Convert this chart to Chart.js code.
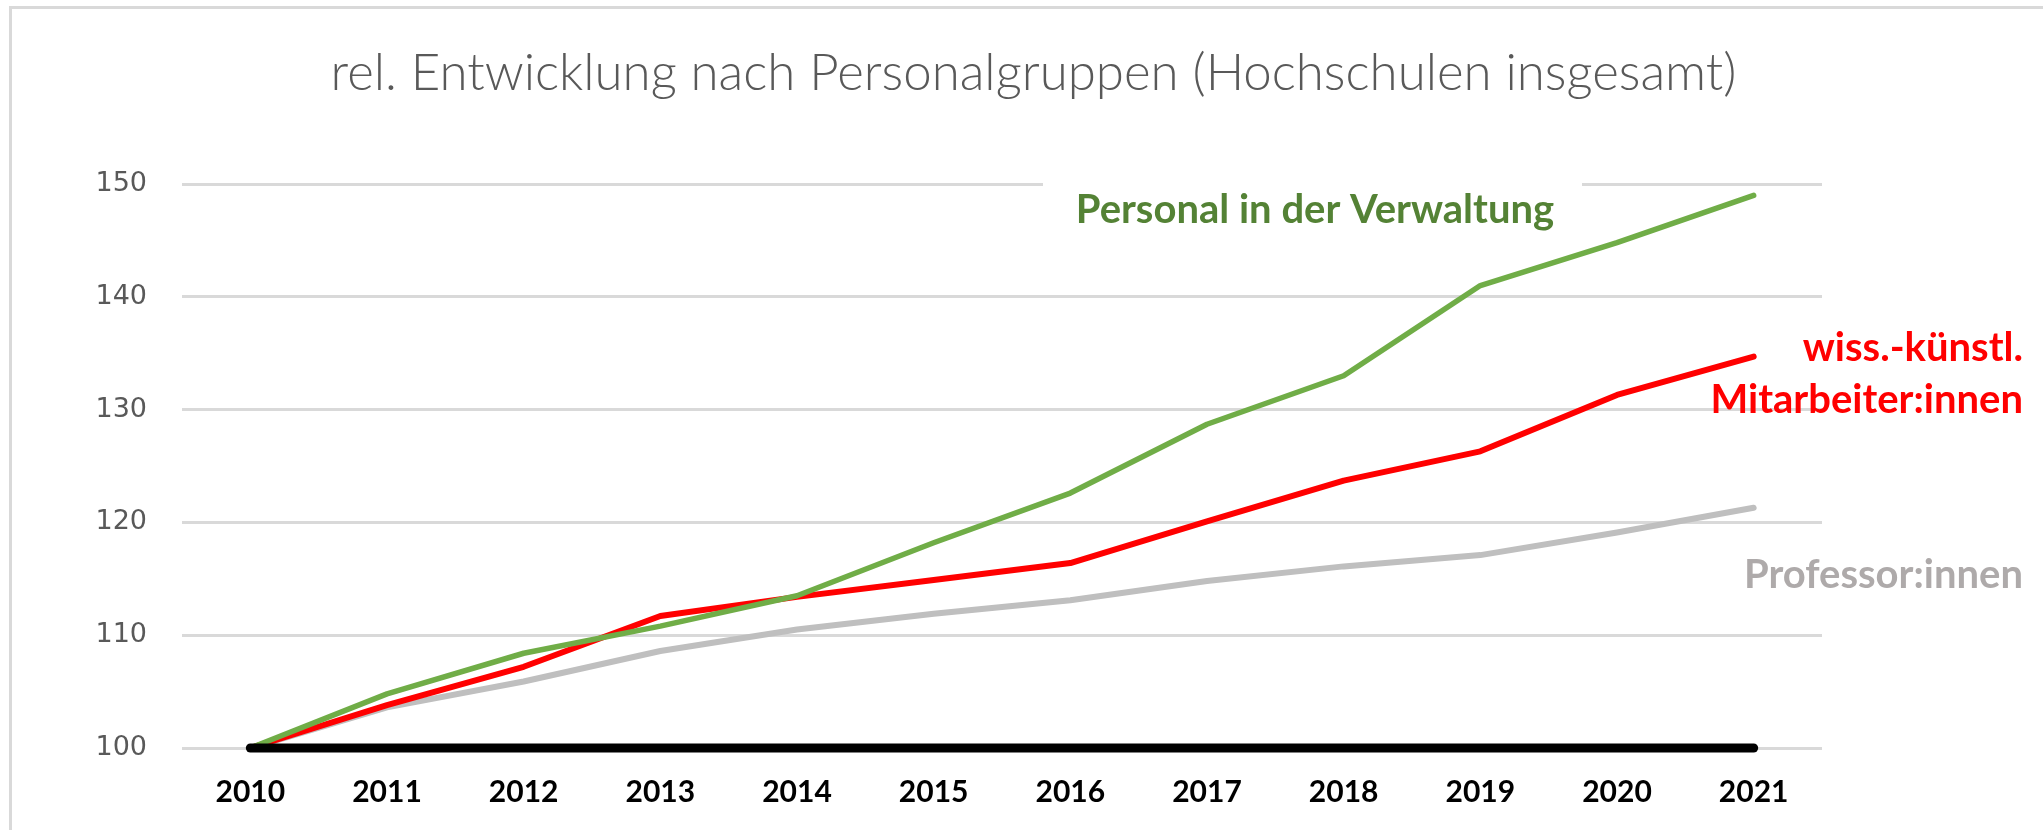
<!DOCTYPE html>
<html>
<head>
<meta charset="utf-8">
<script src="https://cdn.jsdelivr.net/npm/chart.js@4.4.1/dist/chart.umd.min.js"></script>
<style>
  html, body { margin: 0; padding: 0; background: #ffffff; }
  #wrap { width: 2043px; height: 830px; position: relative; }
</style>
</head>
<body>
<div id="wrap"><canvas id="c" width="2043" height="830"></canvas></div>
<script>
// ---- data ----
const years = ['2010','2011','2012','2013','2014','2015','2016','2017','2018','2019','2020','2021'];
const verwaltung   = [100, 104.8, 108.4, 110.8, 113.5, 118.2, 122.6, 128.7, 133.0, 141.0, 144.8, 149.0];
const wissKuenstl  = [100, 103.8, 107.2, 111.7, 113.4, 114.9, 116.4, 120.1, 123.7, 126.3, 131.3, 134.7];
const professoren  = [100, 103.6, 105.9, 108.6, 110.5, 111.9, 113.1, 114.8, 116.1, 117.1, 119.1, 121.3];
const referenz     = [100, 100, 100, 100, 100, 100, 100, 100, 100, 100, 100, 100];
const yTickValues  = [100, 110, 120, 130, 140, 150];
const titleText = 'rel. Entwicklung nach Personalgruppen (Hochschulen insgesamt)';
const labelVerwaltung = ['Personal in der Verwaltung'];
const labelWiss = ['wiss.-künstl.', 'Mitarbeiter:innen'];
const labelProf = ['Professor:innen'];

const LABEL_FONT = 'bold 40px Lato, "Open Sans", sans-serif';

const frame = {
  id: 'frame',
  beforeDraw(chart) {
    const ctx = chart.ctx;
    ctx.save();
    ctx.fillStyle = '#ffffff';
    ctx.fillRect(0, 0, chart.width, chart.height);
    ctx.strokeStyle = '#D9D9D9';
    ctx.lineWidth = 3;
    ctx.strokeRect(10.5, 7.5, chart.width + 50, chart.height + 50);
    ctx.restore();
  },
  beforeDatasetsDraw(chart) {
    // white text box behind the "Personal in der Verwaltung" label
    const ctx = chart.ctx;
    ctx.save();
    ctx.fillStyle = '#ffffff';
    ctx.fillRect(1043, 172, 539, 64);
    ctx.restore();
  },
  afterDraw(chart) {
    const ctx = chart.ctx;
    ctx.save();
    ctx.font = LABEL_FONT;
    ctx.textBaseline = 'alphabetic';
    const items = [
      { lines: labelVerwaltung, color: '#548235', align: 'center', x: 1315, y: 222.5, lh: 52 },
      { lines: labelWiss, color: '#FF0000', align: 'right', x: 2023, y: 361, lh: 51.7 },
      { lines: labelProf, color: '#AEAAAA', align: 'right', x: 2023, y: 587.5, lh: 52 }
    ];
    items.forEach(it => {
      ctx.fillStyle = it.color;
      ctx.textAlign = it.align;
      it.lines.forEach((t, i) => ctx.fillText(t, it.x, it.y + i * it.lh));
    });
    ctx.restore();
  }
};

new Chart(document.getElementById('c').getContext('2d'), {
  type: 'line',
  data: {
    labels: years,
    datasets: [
      { label: 'Referenz', data: referenz, borderColor: '#000000', borderWidth: 9, borderCapStyle: 'round', clip: false },
      { label: 'Personal in der Verwaltung', data: verwaltung, borderColor: '#70AD47', borderWidth: 5.5, borderCapStyle: 'round', clip: false },
      { label: 'wiss.-künstl. Mitarbeiter:innen', data: wissKuenstl, borderColor: '#FF0000', borderWidth: 6, borderCapStyle: 'round', clip: false },
      { label: 'Professor:innen', data: professoren, borderColor: '#BFBFBF', borderWidth: 6, borderCapStyle: 'round', clip: false }
    ]
  },
  options: {
    responsive: false,
    animation: false,
    devicePixelRatio: 1,
    layout: { padding: { left: 24, right: 0, top: 0, bottom: 0 } },
    elements: {
      point: { radius: 0, hoverRadius: 0 },
      line: { tension: 0, borderJoinStyle: 'round', fill: false }
    },
    plugins: {
      legend: { display: false },
      tooltip: { enabled: false },
      title: {
        display: true,
        text: titleText,
        color: '#595959',
        font: { family: 'Lato, "Open Sans", sans-serif', size: 51, weight: '300', lineHeight: 1.2 },
        padding: { top: 43, bottom: 79.8 }
      }
    },
    scales: {
      x: {
        type: 'category',
        offset: true,
        grid: { display: false, drawTicks: false },
        border: { display: false },
        ticks: {
          color: '#000000',
          font: { family: 'Lato, "Open Sans", sans-serif', size: 30, weight: 'bold' },
          padding: 26,
          maxRotation: 0,
          autoSkip: false
        },
        afterFit(s) { s.height = 82; }
      },
      y: {
        type: 'linear',
        position: 'left',
        min: 100,
        max: 150,
        afterBuildTicks(s) { s.ticks = yTickValues.map(v => ({ value: v })); },
        grid: { color: '#D9D9D9', lineWidth: 3, drawTicks: false },
        border: { display: false },
        ticks: {
          color: '#595959',
          font: { family: '"DejaVu Sans", sans-serif', size: 27 },
          padding: 35
        },
        afterFit(s) { s.width = 158; }
      },
      yRight: {
        type: 'linear',
        position: 'right',
        min: 100,
        max: 150,
        grid: { display: false, drawTicks: false },
        border: { display: false },
        ticks: { display: false },
        afterFit(s) { s.width = 221; }
      }
    }
  },
  plugins: [frame]
});
</script>
</body>
</html>
